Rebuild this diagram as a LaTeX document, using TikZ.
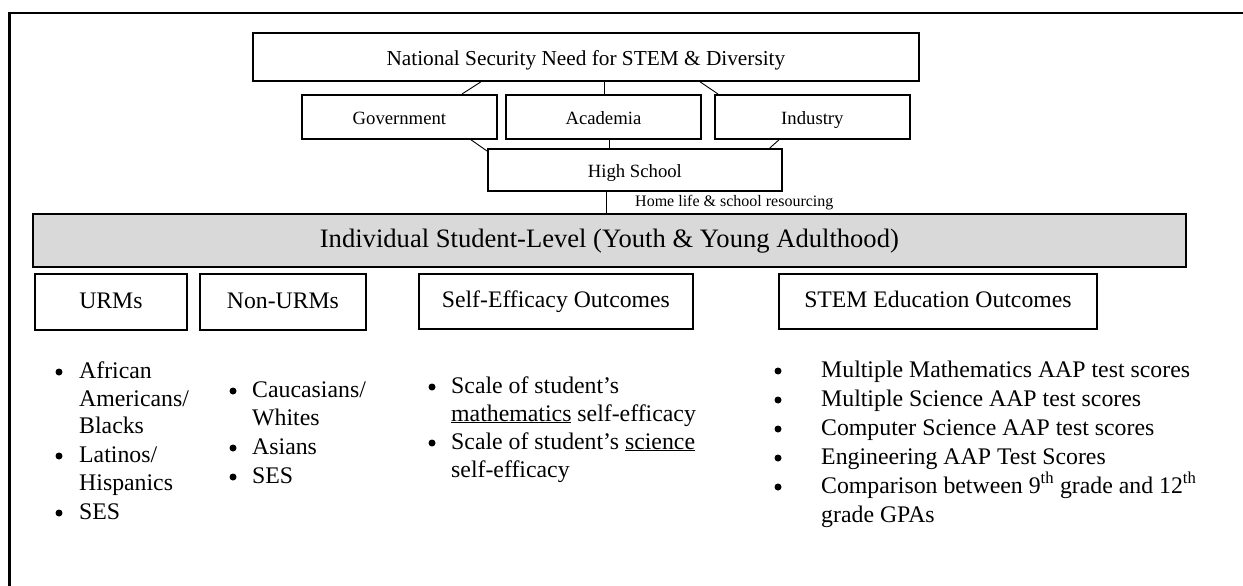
\documentclass[tikz,border=0pt]{standalone}
\usepackage{fontspec}
\setmainfont{Liberation Serif}
\usetikzlibrary{calc}
\definecolor{boxgray}{HTML}{D9D9D9}
\tikzset{
  box/.style={draw=black, line width=1.8pt, inner sep=0pt, anchor=north west, align=center},
  conn/.style={draw=black, line width=0.9pt},
  frameline/.style={draw=black, line width=2.6pt},
  toptext/.style={font=\fontsize{21.3}{25}\selectfont, text height=18pt, text depth=0pt},
  midtext/.style={font=\fontsize{18.7}{22}\selectfont, text height=15pt, text depth=0pt},
  rowtext/.style={font=\fontsize{23.7}{28}\selectfont, text height=12.6pt, text depth=0pt},
  graytext/.style={font=\fontsize{26.6}{31}\selectfont, text height=14pt, text depth=0pt},
  itemline/.style={anchor=base west, inner sep=0pt, font=\fontsize{23.8}{28.5}\selectfont},
  dot/.style={circle, fill=black, inner sep=0pt, minimum size=7pt},
}
\begin{document}
\begin{tikzpicture}[x=1pt,y=-1pt]
\useasboundingbox (0,0) rectangle (1243,586);
% frame
\coordinate (fa) at (9.7,586);
\coordinate (fb) at (9.7,13);
\coordinate (fc) at (1243,13);
\draw[frameline] (fa) -- (fb) -- (fc);

% top hierarchy
\node[box, toptext, minimum width=666pt, minimum height=48pt] (title) at (252,32) {National Security Need for STEM \& Diversity};
\node[box, midtext, minimum width=195pt, minimum height=44pt] (gov) at (301,94) {Government};
\node[box, midtext, minimum width=195pt, minimum height=44pt] (acad) at (505,94) {Academia};
\node[box, midtext, minimum width=195pt, minimum height=44pt] (ind) at (714,94) {Industry};
\node[box, midtext, minimum width=294pt, minimum height=42pt] (hs) at (487,148) {High School};
\node[box, graytext, fill=boxgray, minimum width=1153pt, minimum height=53pt] (gray) at (32,213) {Individual Student-Level (Youth \& Young Adulthood)};

% connectors
\draw[conn] ($(title.south west)+(229,0)$) -- ($(gov.north west)+(161,0)$);
\draw[conn] ($(title.south west)+(352,0)$) -- ($(acad.north west)+(99,0)$);
\draw[conn] ($(title.south west)+(448,0)$) -- ($(ind.north west)+(4,0)$);
\draw[conn] ($(gov.south west)+(170,0)$) -- ($(hs.north west)+(0,3)$);
\draw[conn] ($(acad.south west)+(104,0)$) -- ($(hs.north west)+(122,0)$);
\draw[conn] ($(ind.south west)+(65,0)$) -- ($(hs.north east)+(-13,0)$);
\draw[conn] ($(hs.south west)+(119,0)$) -- ($(gray.north west)+(574,0)$);
\node[anchor=base west, inner sep=0pt, font=\fontsize{16}{19}\selectfont] (home) at (635,206) {Home life \& school resourcing};

% row boxes
\node[box, rowtext, minimum width=152pt, minimum height=56pt] (urm) at (34,273) {URMs};
\node[box, rowtext, minimum width=166pt, minimum height=56pt] (nurm) at (199,273) {Non-URMs};
\node[box, rowtext, minimum width=274pt, minimum height=55pt] (se) at (418,273) {Self-Efficacy Outcomes};
\node[box, rowtext, minimum width=318pt, minimum height=55pt] (stem) at (778,273) {STEM Education Outcomes};

% URMs list
\node[dot] (ub1) at (59,372) {};
\node[itemline] (u1) at (79,378) {African};
\node[itemline] (u2) at (79,406) {Americans/};
\node[itemline] (u3) at (79,433) {Blacks};
\node[dot] (ub2) at (59,456) {};
\node[itemline] (u4) at (79,462) {Latinos/};
\node[itemline] (u5) at (79,490) {Hispanics};
\node[dot] (ub3) at (59,513) {};
\node[itemline] (u6) at (79,519) {SES};

% Non-URMs list
\node[dot] (nb1) at (233,391) {};
\node[itemline] (n1) at (252,397) {Caucasians/};
\node[itemline] (n2) at (252,425) {Whites};
\node[dot] (nb2) at (233,448) {};
\node[itemline] (n3) at (252,454) {Asians};
\node[dot] (nb3) at (233,477) {};
\node[itemline] (n4) at (252,483) {SES};

% Self-efficacy list
\node[dot] (sb1) at (432,387) {};
\node[itemline] (s1) at (451,393) {Scale of student’s};
\node[itemline] (s2) at (451,421) {\underline{mathematics} self-efficacy};
\node[dot] (sb2) at (432,443) {};
\node[itemline] (s3) at (451,449) {Scale of student’s \underline{science}};
\node[itemline] (s4) at (451,477) {self-efficacy};

% STEM list
\node[dot] (tb1) at (778,371) {};
\node[itemline] (t1) at (821,377) {Multiple Mathematics AAP test scores};
\node[dot] (tb2) at (778,400) {};
\node[itemline] (t2) at (821,406) {Multiple Science AAP test scores};
\node[dot] (tb3) at (778,429) {};
\node[itemline] (t3) at (821,435) {Computer Science AAP test scores};
\node[dot] (tb4) at (778,458) {};
\node[itemline] (t4) at (821,464) {Engineering AAP Test Scores};
\node[dot] (tb5) at (778,487) {};
\node[itemline] (t5) at (821,493) {Comparison between 9\textsuperscript{th} grade and 12\textsuperscript{th}};
\node[itemline] (t6) at (821,522) {grade GPAs};
\end{tikzpicture}
\end{document}
